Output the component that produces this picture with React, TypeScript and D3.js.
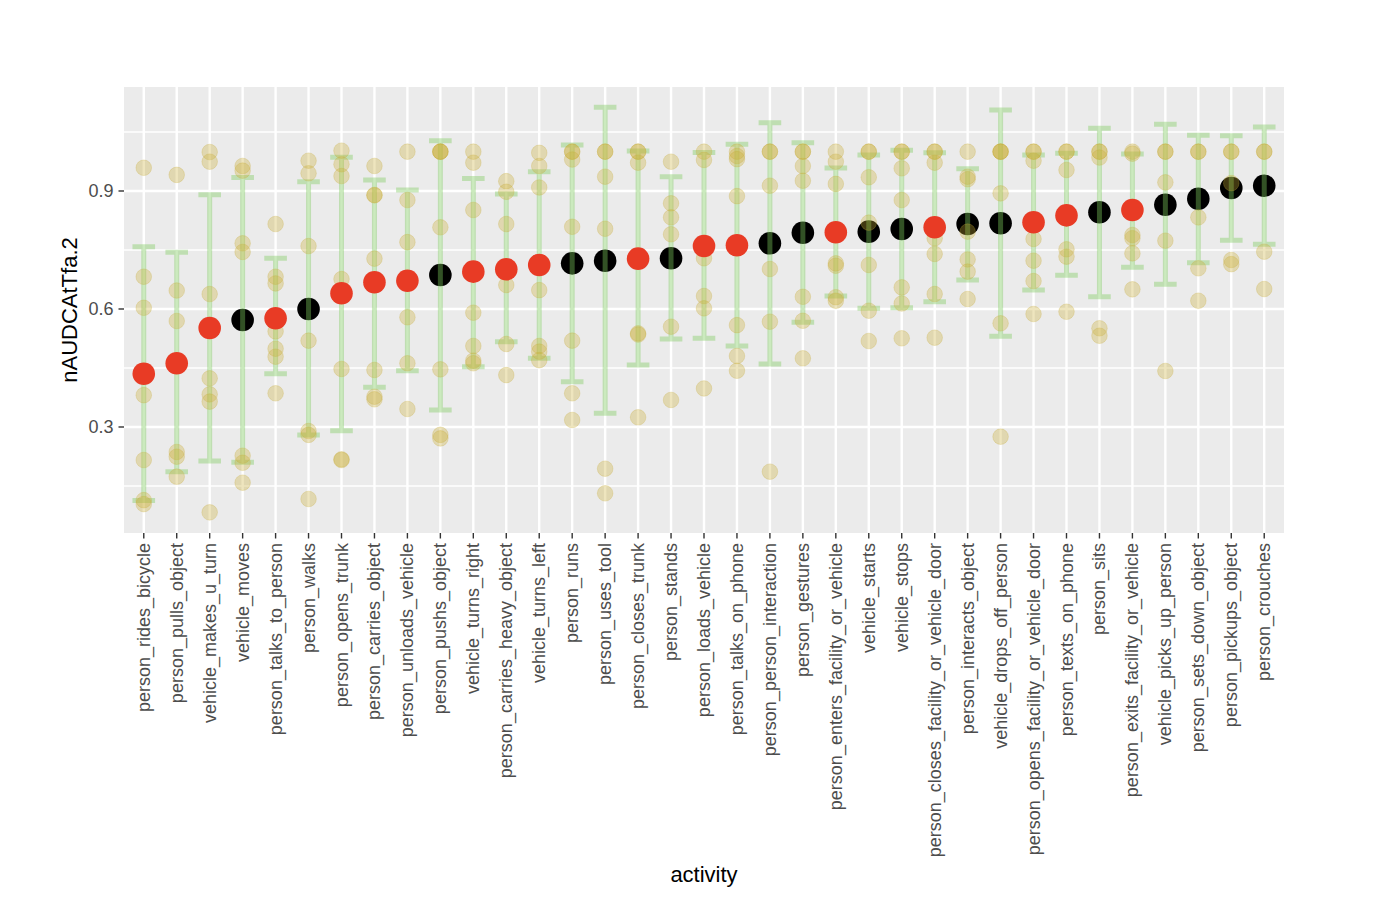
import React from "react";
import * as d3 from "d3";

const categories = [
  "person_rides_bicycle", "person_pulls_object", "vehicle_makes_u_turn", "vehicle_moves",
  "person_talks_to_person", "person_walks", "person_opens_trunk", "person_carries_object",
  "person_unloads_vehicle", "person_pushs_object", "vehicle_turns_right", "person_carries_heavy_object",
  "vehicle_turns_left", "person_runs", "person_uses_tool", "person_closes_trunk",
  "person_stands", "person_loads_vehicle", "person_talks_on_phone", "person_person_interaction",
  "person_gestures", "person_enters_facility_or_vehicle", "vehicle_starts", "vehicle_stops",
  "person_closes_facility_or_vehicle_door", "person_interacts_object", "vehicle_drops_off_person",
  "person_opens_facility_or_vehicle_door", "person_texts_on_phone", "person_sits",
  "person_exits_facility_or_vehicle", "vehicle_picks_up_person", "person_sets_down_object",
  "person_pickups_object", "person_crouches",
];

const meanValues = [
  0.4355, 0.462, 0.5517, 0.572, 0.5763, 0.600, 0.640, 0.668, 0.672, 0.6865, 0.695, 0.701,
  0.712, 0.716, 0.7228, 0.728, 0.729, 0.760, 0.762, 0.767, 0.794, 0.795, 0.7966, 0.8034,
  0.8077, 0.816, 0.818, 0.8205, 0.838, 0.8458, 0.8517, 0.865, 0.88, 0.9077, 0.9135,
];

// 1 = highlighted (red) mean, 0 = black mean
const highlighted = [
  1, 1, 1, 0, 1, 0, 1, 1, 1, 0, 1, 1, 1, 0, 0, 1, 0, 1, 1, 0, 0, 1, 0, 0, 1, 0, 0, 1, 1, 0, 1, 0, 0, 0, 0,
];

const errHigh = [
  0.758, 0.744, 0.8907, 0.934, 0.7289, 0.9237, 0.986, 0.928, 0.9025, 1.028, 0.932, 0.8924,
  0.949, 1.017, 1.1128, 1.0017, 0.9364, 0.998, 1.0187, 1.0737, 1.0228, 0.9585, 0.9915, 1.0035,
  0.9975, 0.9567, 1.106, 0.9915, 0.996, 1.0594, 0.994, 1.0695, 1.0416, 1.0407, 1.0627,
];

const errLow = [
  0.113, 0.186, 0.2136, 0.2102, 0.4355, 0.2797, 0.2907, 0.401, 0.443, 0.343, 0.4533, 0.517,
  0.4746, 0.415, 0.3348, 0.4576, 0.5237, 0.5255, 0.506, 0.46, 0.566, 0.633, 0.6017, 0.6033,
  0.6186, 0.6737, 0.531, 0.648, 0.6857, 0.631, 0.706, 0.6627, 0.7178, 0.775, 0.7645,
];

const runValues = [
  [0.959, 0.682, 0.603, 0.381, 0.216, 0.114, 0.104],
  [0.941, 0.647, 0.5695, 0.2365, 0.2245, 0.1737],
  [0.999, 0.9745, 0.638, 0.4238, 0.383, 0.3645, 0.083],
  [0.9636, 0.9517, 0.767, 0.745, 0.227, 0.209, 0.1584],
  [0.816, 0.682, 0.665, 0.543, 0.499, 0.4787, 0.3857],
  [0.977, 0.945, 0.760, 0.5195, 0.2898, 0.28, 0.117],
  [1.0025, 0.968, 0.938, 0.676, 0.4475, 0.2178, 0.216],
  [0.9636, 0.89, 0.889, 0.728, 0.445, 0.377, 0.3704],
  [1.0, 0.877, 0.770, 0.579, 0.462, 0.3458],
  [1.0, 1.0, 1.0, 0.8077, 0.4466, 0.28, 0.271],
  [1.0, 0.972, 0.8517, 0.5906, 0.506, 0.4686, 0.462],
  [0.925, 0.898, 0.816, 0.661, 0.511, 0.432],
  [0.997, 0.9636, 0.909, 0.648, 0.506, 0.4915, 0.470],
  [1.0, 1.0, 0.98, 0.809, 0.5195, 0.3857, 0.3178],
  [1.0, 1.0, 0.9364, 0.804, 0.194, 0.1314],
  [1.0, 1.0, 0.972, 0.538, 0.535, 0.3246],
  [0.9745, 0.8687, 0.833, 0.79, 0.555, 0.3687],
  [1.0, 0.979, 0.729, 0.633, 0.6017, 0.398],
  [1.0, 0.989, 0.981, 0.887, 0.559, 0.4805, 0.443],
  [1.0, 1.0, 0.9135, 0.7017, 0.5677, 0.1864],
  [1.0, 1.0, 0.9636, 0.926, 0.631, 0.570, 0.4746],
  [1.0, 0.9745, 0.918, 0.716, 0.71, 0.63, 0.621],
  [1.0, 1.0, 0.935, 0.8195, 0.712, 0.5957, 0.5186],
  [1.0, 1.0, 0.9577, 0.877, 0.655, 0.614, 0.5255],
  [1.0, 1.0, 0.972, 0.78, 0.74, 0.638, 0.527],
  [1.0, 0.9364, 0.93, 0.7966, 0.726, 0.695, 0.6254],
  [1.0, 1.0, 1.0, 0.894, 0.5636, 0.2754],
  [1.0, 1.0, 0.977, 0.778, 0.7228, 0.671, 0.5873],
  [1.0, 1.0, 0.9534, 0.7518, 0.733, 0.593],
  [1.0, 1.0, 0.985, 0.551, 0.532],
  [1.0, 0.995, 0.788, 0.78, 0.7415, 0.65],
  [1.0, 1.0, 0.922, 0.7737, 0.4424],
  [1.0, 1.0, 0.833, 0.7035, 0.621],
  [1.0, 1.0, 0.92, 0.7246, 0.714],
  [1.0, 1.0, 0.7457, 0.6508],
];

const yTicks = [0.3, 0.6, 0.9];
const yMinorTicks = [0.15, 0.45, 0.75, 1.05];
const xTitle = "activity";
const yTitle = "nAUDCAtTfa.2";

const W = 1398;
const H = 908;
const P = { left: 124, right: 1284, top: 87, bottom: 533 };
const FONT = "'Liberation Sans', Arial, Helvetica, sans-serif";

export default function App() {
  const step = (P.right - P.left) / (categories.length - 1 + 1.2);
  const x = d3
    .scalePoint<string>()
    .domain(categories)
    .range([P.left + 0.6 * step, P.right - 0.6 * step]);
  const y = d3.scaleLinear().domain([0.0305, 1.1644]).range([P.bottom, P.top]);

  const capHalf = 11.3;
  const errPath = (i: number) => {
    const cx = x(categories[i])!;
    const t = y(errHigh[i]);
    const b = y(errLow[i]);
    const p = d3.path();
    p.moveTo(cx - capHalf, t);
    p.lineTo(cx + capHalf, t);
    p.moveTo(cx, t);
    p.lineTo(cx, b);
    p.moveTo(cx - capHalf, b);
    p.lineTo(cx + capHalf, b);
    return p.toString();
  };

  return (
    <svg
      width={W}
      height={H}
      style={{ position: "absolute", left: 0, top: 0, background: "#fff" }}
      fontFamily={FONT}
    >
      <rect x={P.left} y={P.top} width={P.right - P.left} height={P.bottom - P.top} fill="#EBEBEB" />
      {yMinorTicks.map((t) => (
        <line key={"ym" + t} x1={P.left} x2={P.right} y1={y(t)} y2={y(t)} stroke="#fff" strokeWidth={1.3} />
      ))}
      {yTicks.map((t) => (
        <line key={"yM" + t} x1={P.left} x2={P.right} y1={y(t)} y2={y(t)} stroke="#fff" strokeWidth={2.4} />
      ))}
      {categories.map((c) => (
        <line key={"xg" + c} x1={x(c)} x2={x(c)} y1={P.top} y2={P.bottom} stroke="#fff" strokeWidth={2.4} />
      ))}

      {/* black means */}
      {categories.map((c, i) =>
        highlighted[i] ? null : (
          <circle key={"bm" + c} cx={x(c)} cy={y(meanValues[i])} r={11.3} fill="#000" />
        )
      )}

      {/* error bars */}
      {categories.map((c, i) => (
        <path
          key={"eb" + c}
          d={errPath(i)}
          fill="none"
          stroke="#7CCB5C"
          strokeOpacity={0.4}
          strokeWidth={5}
        />
      ))}

      {/* individual values */}
      {categories.map((c, i) =>
        runValues[i].map((v, j) => (
          <circle
            key={"rv" + c + j}
            cx={x(c)}
            cy={y(v)}
            r={7.8}
            fill="#C9AD36"
            fillOpacity={0.32}
            stroke="#C9AD36"
            strokeOpacity={0.25}
            strokeWidth={1}
          />
        ))
      )}

      {/* red means */}
      {categories.map((c, i) =>
        highlighted[i] ? (
          <circle key={"rm" + c} cx={x(c)} cy={y(meanValues[i])} r={11.3} fill="#E83B25" />
        ) : null
      )}

      {/* y axis */}
      {yTicks.map((t) => (
        <g key={"yt" + t}>
          <line x1={P.left - 5.5} x2={P.left} y1={y(t)} y2={y(t)} stroke="#333" strokeWidth={1.4} />
          <text
            x={P.left - 10.5}
            y={y(t)}
            textAnchor="end"
            dominantBaseline="central"
            fontSize={18}
            fill="#4D4D4D"
          >
            {t.toFixed(1)}
          </text>
        </g>
      ))}

      {/* x axis */}
      {categories.map((c) => (
        <g key={"xt" + c}>
          <line x1={x(c)} x2={x(c)} y1={P.bottom} y2={P.bottom + 5.5} stroke="#333" strokeWidth={1.4} />
          <text
            transform={`translate(${x(c)},${P.bottom + 10}) rotate(-90)`}
            textAnchor="end"
            dominantBaseline="central"
            fontSize={18}
            fill="#4D4D4D"
          >
            {c}
          </text>
        </g>
      ))}

      <text x={(P.left + P.right) / 2} y={882} textAnchor="middle" fontSize={22} fill="#000">
        {xTitle}
      </text>
      <text
        transform={`translate(77,${(P.top + P.bottom) / 2}) rotate(-90)`}
        textAnchor="middle"
        fontSize={22}
        fill="#000"
      >
        {yTitle}
      </text>
    </svg>
  );
}
